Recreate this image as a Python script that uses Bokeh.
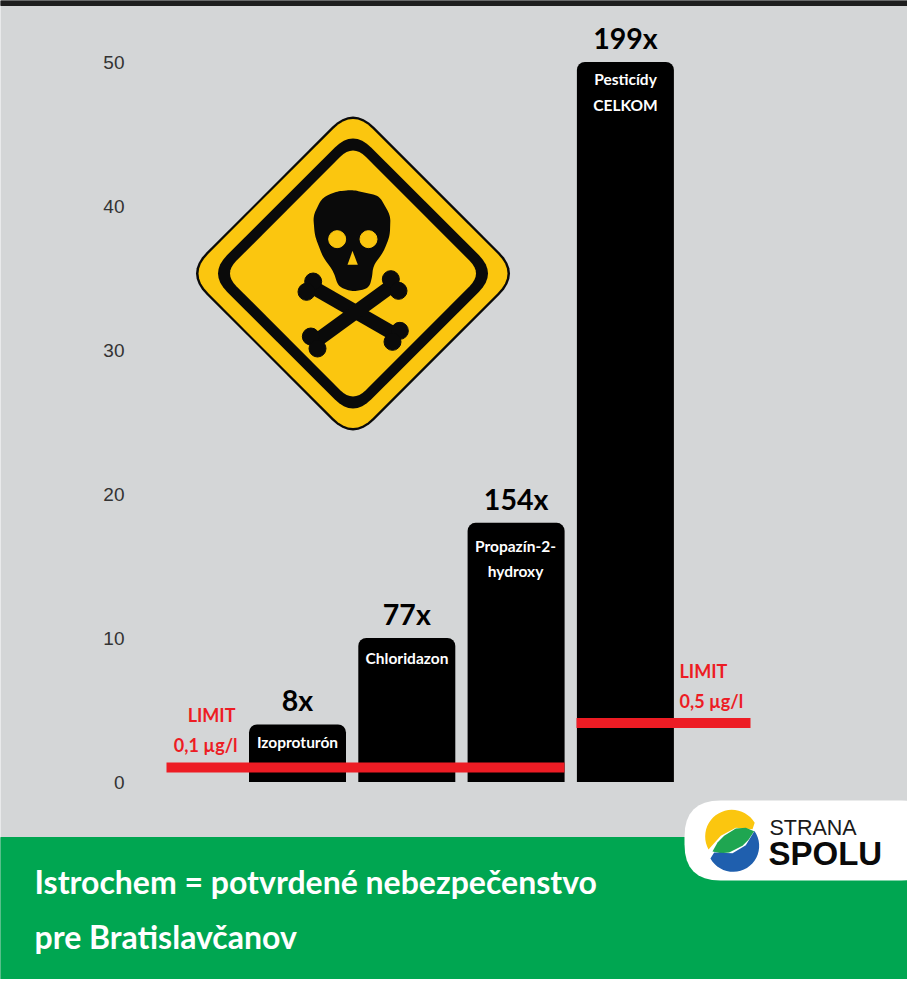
import math
from bokeh.plotting import figure
from bokeh.models import Range1d, FixedTicker
from bokeh.core.properties import value
from bokeh.embed import file_html
from bokeh.resources import INLINE

# ---- data
substances = ["Izoproturón", "Chloridazon", "Propazín-2-hydroxy", "Pesticídy CELKOM"]
concentrations = [4, 10, 18, 50]
multiples = ["8x", "77x", "154x", "199x"]
limits = [1.0, 4.1]
limit_labels = ["0,1 µg/l", "0,5 µg/l"]
y_ticks = [0, 10, 20, 30, 40, 50]
title_lines = ["Istrochem = potvrdené nebezpečenstvo", "pre Bratislavčanov"]

COND = value("Lato")
W, H = 907, 979
BG, GREEN, RED, YEL = "#D4D6D7", "#00A651", "#ED1C24", "#FBC60F"

STEP = 109.3
x0 = lambda px: (px - 305) / STEP
Y0, PPU = 789.5, 14.4

p = figure(width=W, height=H, output_backend="svg", toolbar_location=None,
           x_range=Range1d(x0(8), x0(915)),
           y_range=Range1d((Y0 - 987) / PPU, (Y0 - 8) / PPU),
           min_border=0, min_border_left=0, min_border_right=0, min_border_top=0, min_border_bottom=0,
           background_fill_color=BG, border_fill_color=None, outline_line_color=None, x_axis_location=None)
p.xgrid.visible = False
p.ygrid.visible = False
# page-pixel coordinates for the decoration
p.extra_x_ranges["px"] = Range1d(8, 915)
p.extra_y_ranges["px"] = Range1d(987, 8)
PX = dict(x_range_name="px", y_range_name="px")

ax = p.yaxis[0]
ax.fixed_location = x0(135)
ax.ticker = FixedTicker(ticks=y_ticks)
ax.axis_line_color = None
ax.major_tick_line_color = None
ax.minor_tick_line_color = None
ax.major_tick_out = 0
ax.major_tick_in = 0
ax.major_label_standoff = 3
ax.major_label_text_font = "Liberation Sans"
ax.major_label_text_font_size = "19px"
ax.major_label_text_color = "#333333"


def rounded(pts, r, n=8):
    out = []
    m = len(pts)
    for i in range(m):
        a, b, c = pts[i - 1], pts[i], pts[(i + 1) % m]
        la = math.dist(a, b); lc = math.dist(c, b)
        s = (b[0] + (a[0] - b[0]) * r / la, b[1] + (a[1] - b[1]) * r / la)
        e = (b[0] + (c[0] - b[0]) * r / lc, b[1] + (c[1] - b[1]) * r / lc)
        for k in range(n + 1):
            t = k / n
            out.append(((1 - t) ** 2 * s[0] + 2 * t * (1 - t) * b[0] + t * t * e[0],
                        (1 - t) ** 2 * s[1] + 2 * t * (1 - t) * b[1] + t * t * e[1]))
    return out


def patch(pts, color, **kw):
    p.patch([q[0] for q in pts], [q[1] for q in pts], fill_color=color, line_color=kw.pop("line", None), **PX, **kw)


def diamond(cx, cy, h, r):
    h = h + r * 0.354
    return rounded([(cx, cy - h), (cx + h, cy), (cx, cy + h), (cx - h, cy)], r)


def zoomed(ox, oy, pts):
    return [(ox + a / 3, oy + b / 3) for a, b in pts]


def arc(cx, cy, r, a0, a1, n=24):
    return [(cx + r * math.cos(math.radians(a0 + (a1 - a0) * k / n)),
             cy + r * math.sin(math.radians(a0 + (a1 - a0) * k / n))) for k in range(n + 1)]


# frame furniture
p.quad(left=[8], right=[915], top=[8], bottom=[13], color="#1E1E1E", **PX)
p.quad(left=[8], right=[915], top=[845], bottom=[987], color=GREEN, **PX)

# warning sign
patch(diamond(360.5, 281, 157, 30), "#0A0A0A")
patch(diamond(360.5, 281, 154.5, 28), YEL)
patch(diamond(360.5, 281, 135, 26), "#0A0A0A")
patch(diamond(360.5, 281, 123, 18), YEL)
sk = zoomed(190, 110, [(510, 262), (590, 280), (624, 340), (622, 400), (602, 450), (572, 490), (568, 530), (558, 558),
                       (510, 568), (468, 553), (452, 505), (422, 465), (397, 400), (392, 340), (418, 287), (460, 267)])
patch(rounded(sk, 6), "#0A0A0A")
bone_a = zoomed(190, 110, [(380, 548), (645, 700)])
bone_b = zoomed(190, 110, [(635, 545), (392, 722)])
p.multi_line([[q[0] for q in bone_a], [q[0] for q in bone_b]], [[q[1] for q in bone_a], [q[1] for q in bone_b]],
             line_color="#0A0A0A", line_width=14, **PX)
knobs = zoomed(190, 110, [(392, 537), (372, 568), (652, 685), (630, 718), (625, 530), (648, 565), (385, 702), (405, 738)])
p.circle([q[0] for q in knobs], [q[1] for q in knobs], radius=8.5, radius_units="screen", color="#0A0A0A", **PX)
eyes = zoomed(190, 110, [(464, 410), (558, 410)])
p.circle([q[0] for q in eyes], [q[1] for q in eyes], radius=8.5, radius_units="screen", color=YEL, **PX)
patch(zoomed(190, 110, [(510, 445), (526, 487), (495, 487)]), YEL)

# bars
xs = list(range(len(substances)))
p.vbar(x=xs, top=concentrations, bottom=0, width=97 / STEP, fill_color="#000000", line_color=None,
       border_radius=(8, 8, 0, 0))

# limit lines
p.segment(x0=[x0(174), x0(584)], x1=[x0(572), x0(758)], y0=limits, y1=limits, line_color=RED, line_width=10,
          line_cap="butt")

# multiples above the bars
p.text(xs, concentrations, text=multiples, text_font=COND, text_font_style="bold", text_font_size="28.5px",
       text_color="#000000", text_align="center", text_baseline="middle", y_offset=-24)

# names inside the bars
name_x = [305, 414.5, 523, 633, 633, 523]
name_y = [749, 665, 553, 86, 112, 578]
names = [substances[0], substances[1], "Propazín-2-", "Pesticídy", "CELKOM", "hydroxy"]
p.text(name_x, name_y, text=names, text_font=COND, text_font_style="bold", text_font_size="15.5px",
       text_color="#FFFFFF", text_align="center", text_baseline="middle", **PX)

# limit texts
p.text([243, 245], [722, 752], text=["LIMIT", limit_labels[0]], text_font=COND, text_font_style="bold",
       text_font_size="18px", text_color=RED, text_align="right", text_baseline="middle", **PX)
p.text([687, 687], [678, 708], text=["LIMIT", limit_labels[1]], text_font=COND, text_font_style="bold",
       text_font_size="18px", text_color=RED, text_align="left", text_baseline="middle", **PX)

# title
p.text([42, 42], [889, 944], text=title_lines, text_font=COND, text_font_style="bold", text_font_size="32px",
       text_color="#FFFFFF", text_align="left", text_baseline="middle", **PX)

# logo
patch(rounded([(692, 808), (945, 808), (945, 888), (692, 888)], 36), "#FFFFFF")
yellow = arc(268, 162, 80, -31, -209) + [(235, 160), (280, 136), (330, 140)]
patch(zoomed(650, 790, yellow), "#FBC60F")
patch(zoomed(650, 790, [(210, 207), (225, 180), (245, 160), (280, 138), (310, 136), (335, 146), (318, 172), (300, 190), (260, 210), (235, 212)]), "#1FA651")
blue = arc(272, 190, 78, -35, 151) + [(215, 210), (270, 212), (310, 188)]
patch(zoomed(650, 790, blue), "#1F5FAE")
p.text([777], [835], text=["STRANA"], text_font=value("Liberation Sans"), text_font_size="21.5px", text_color="#1A1A1A",
       text_baseline="middle", **PX)
p.text([776], [861], text=["SPOLU"], text_font=value("Liberation Sans"), text_font_style="bold", text_font_size="33px",
       text_color="#0A0A0A", text_baseline="middle", **PX)

open("out.html", "w").write(file_html(p, INLINE))
